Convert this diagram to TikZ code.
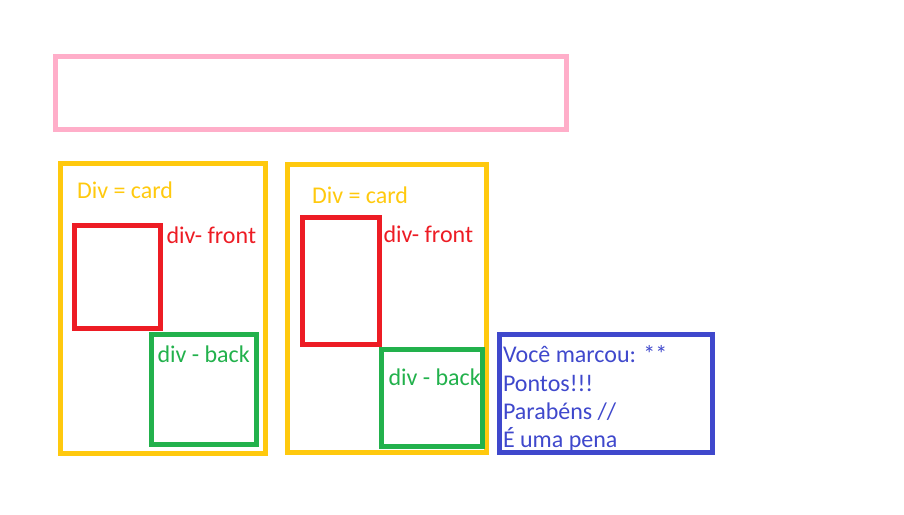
\documentclass[tikz,border=0pt]{standalone}
\usepackage{fontspec}
\setmainfont{Carlito}
\usetikzlibrary{positioning}

\definecolor{paintyellow}{RGB}{255,201,14}
\definecolor{paintred}{RGB}{237,28,36}
\definecolor{paintgreen}{RGB}{34,177,76}
\definecolor{paintblue}{RGB}{63,72,204}
\definecolor{paintpink}{RGB}{255,174,201}

\begin{document}
\begin{tikzpicture}[x=1pt,y=-1pt,line width=5pt,
                    box/.style={shape=rectangle,draw,anchor=north west,outer sep=0pt,inner sep=0pt},
                    label/.style={anchor=base west,inner sep=0pt,font=\fontsize{24}{29}\selectfont}]
  \useasboundingbox (0,0) rectangle (904,514);

  \node[box,draw=paintpink,minimum width=511pt,minimum height=72.5pt] (header) at (55.5,56.5) {};

  \node[box,draw=paintyellow,minimum width=205pt,minimum height=290pt] (cardA) at (60.5,163.5) {};
  \node[box,draw=paintred,line width=4.5pt,minimum width=86pt,minimum height=103pt] (frontA) at (74.5,225.5) {};
  \node[box,draw=paintgreen,line width=4.5pt,minimum width=105pt,minimum height=110pt] (backA) at (151.5,334.5) {};
  \node[label,text=paintyellow] (cardAtxt) at (74.5,198) {Div = card};
  \node[label,text=paintred] (frontAtxt) at (164,243) {div- front};
  \node[label,text=paintgreen] (backAtxt) at (155,362) {div - back};

  \node[box,draw=paintyellow,minimum width=199pt,minimum height=288pt] (cardB) at (287.5,164.5) {};
  \node[box,draw=paintred,line width=4.5pt,minimum width=77pt,minimum height=127pt] (frontB) at (302.5,217.5) {};
  \node[box,draw=paintgreen,line width=4.5pt,minimum width=101pt,minimum height=97pt] (backB) at (381.5,349.5) {};
  \node[label,text=paintyellow] (cardBtxt) at (309.5,203) {Div = card};
  \node[label,text=paintred] (frontBtxt) at (381,242) {div- front};
  \node[label,text=paintgreen] (backBtxt) at (386,385) {div - back};

  \node[label,text=paintblue] (score1) at (500.5,362) {Você marcou: **};
  \node[label,text=paintblue] (score2) at (500.5,391) {Pontos!!!};
  \node[label,text=paintblue] (score3) at (500.5,419.5) {Parabéns //};
  \node[label,text=paintblue] (score4) at (500.5,447.5) {É uma pena};
  \node[box,draw=paintblue,minimum width=213pt,minimum height=118pt] (result) at (499.5,334.5) {};
\end{tikzpicture}
\end{document}
